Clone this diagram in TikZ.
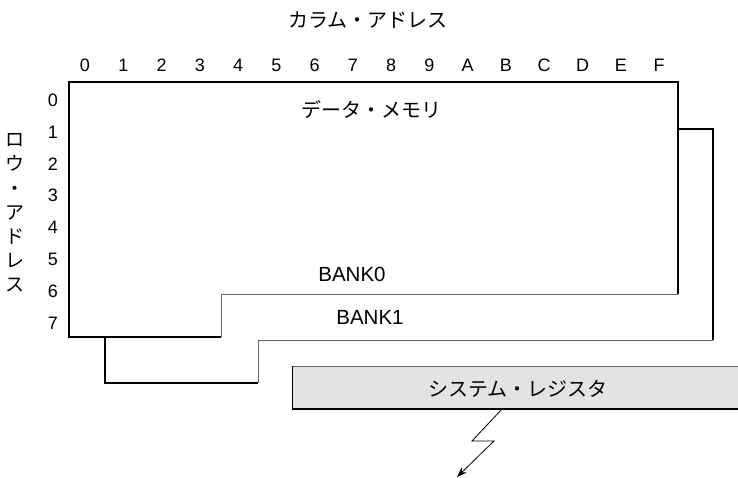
\documentclass[tikz,border=0pt]{standalone}
\usepackage{fontspec}
\setmainfont{Liberation Sans}
\newfontfamily\jpfont{Noto Sans CJK JP}
\usetikzlibrary{positioning}
\usetikzlibrary{arrows.meta}

\tikzset{
  epais/.style={line width=2pt, black},
  fin/.style={line width=0.9pt, black!60},
  jp/.style={font=\jpfont\fontsize{20}{24}\selectfont},
  num/.style={font=\fontsize{18}{20}\selectfont},
  banque/.style={font=\fontsize{20.5}{22}\selectfont},
}

\begin{document}
\begin{tikzpicture}[x=1pt, y=-1pt]
        \def\cw{38.27} % pas des colonnes
        \def\rh{31.9}  % pas des lignes
        \useasboundingbox (0,0) rectangle (738,477);

        % adresses de colonne
        \node[jp] (coltitre) at (368,20) {カラム・アドレス};
        \foreach \c [count=\i from 0] in {0,1,2,3,4,5,6,7,8,9,A,B,C,D,E,F} {
            \node[num] (col\i) at (85+\i*\cw, 65) {\c};
        }

        % adresses de ligne
        \node[jp, align=center, font=\jpfont\fontsize{19}{24.2}\selectfont] (rowtitre) at (15,213)
            {ロ\\ウ\\・\\ア\\ド\\レ\\ス};
        \foreach \r in {0,...,7} {
            \node[num] (row\r) at (53, 100+\r*\rh) {\r};
        }

        % BANK0
        \draw[epais] (221,337) -- (69,337) -- (69,82) -- (678,82) -- (678,294);
        \draw[fin] (678,294) -- (221,294) -- (221,337);
        % BANK1
        \draw[epais] (678,129) -- (713,129) -- (713,340);
        \draw[fin] (713,340) -- (258,340) -- (258,383);
        \draw[epais] (258,383) -- (105,383) -- (105,337);

        \node[jp] (datamem) at (371,110) {データ・メモリ};
        \node[banque] (bank0) at (352,274) {BANK0};
        \node[banque] (bank1) at (370,317) {BANK1};

        % registre systeme
        \fill[black!11] (292,366) rectangle (738,409);
        \draw[fin] (738,366) -- (292,366);
        \draw[line width=0.9pt] (292,366) -- (292,409);
        \draw[epais] (292,409) -- (738,409);
        \node[jp] (sysreg) at (518,389) {システム・レジスタ};

        % sortie
        \coordinate (depart) at (502,409);
        \coordinate (sortie) at (457,477);
        \draw[line width=0.8pt, -{Stealth[length=10pt, width=7pt]}]
            (depart) -- (472,441) -- (494,441) -- (sortie);
\end{tikzpicture}
\end{document}
